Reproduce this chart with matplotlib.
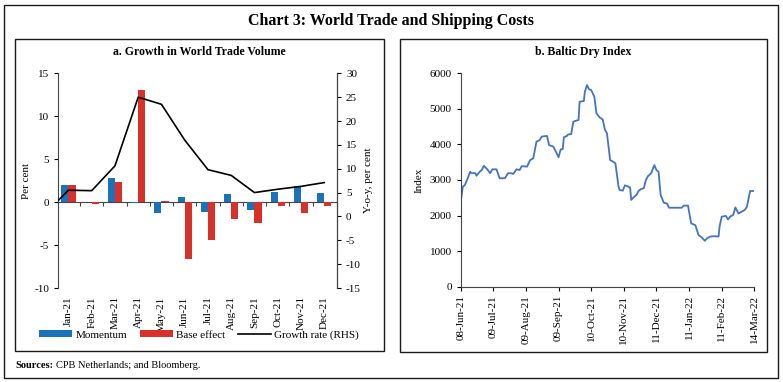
import matplotlib
matplotlib.use("Agg")
import matplotlib.pyplot as plt
import matplotlib.dates as mdates
from matplotlib.patches import Rectangle
import numpy as np
import pandas as pd

plt.rcParams['font.family'] = ['Liberation Serif', 'DejaVu Serif']
plt.rcParams['font.size'] = 8
plt.rcParams['axes.unicode_minus'] = False

# panel a data
months = ['Jan-21', 'Feb-21', 'Mar-21', 'Apr-21', 'May-21', 'Jun-21',
          'Jul-21', 'Aug-21', 'Sep-21', 'Oct-21', 'Nov-21', 'Dec-21']
momentum = [2.0, 0.0, 2.8, -0.1, -1.3, 0.6, -1.2, 1.0, -0.9, 1.2, 1.9, 1.1]
base_effect = [2.0, -0.2, 2.3, 13.1, 0.1, -6.6, -4.4, -2.0, -2.4, -0.5, -1.3, -0.4]
# growth rate (RHS), first value is Dec-20
growth = [0.6, 5.5, 5.4, 10.6, 25.0, 23.5, 16.0, 9.8, 8.6, 5.0, 5.7, 6.3, 7.1]

# panel b data (Baltic Dry Index)
bdi_dates = ['2021-06-08', '2021-06-10', '2021-06-12', '2021-06-14', '2021-06-17',
             '2021-06-18', '2021-06-22', '2021-06-23', '2021-06-26', '2021-06-28',
             '2021-06-30', '2021-07-03', '2021-07-06', '2021-07-08', '2021-07-12',
             '2021-07-15', '2021-07-20', '2021-07-23', '2021-07-26', '2021-07-28',
             '2021-07-31', '2021-08-03', '2021-08-05', '2021-08-10', '2021-08-13',
             '2021-08-16', '2021-08-19', '2021-08-22', '2021-08-24', '2021-08-29',
             '2021-08-31', '2021-09-04', '2021-09-09', '2021-09-11', '2021-09-13',
             '2021-09-14', '2021-09-17', '2021-09-18', '2021-09-21', '2021-09-23',
             '2021-09-26', '2021-09-28', '2021-09-29', '2021-10-03', '2021-10-04',
             '2021-10-06', '2021-10-08', '2021-10-10', '2021-10-13', '2021-10-15',
             '2021-10-18', '2021-10-21', '2021-10-23', '2021-10-25', '2021-10-28',
             '2021-10-30', '2021-11-02', '2021-11-05', '2021-11-06', '2021-11-09',
             '2021-11-11', '2021-11-13', '2021-11-16', '2021-11-17', '2021-11-20',
             '2021-11-22', '2021-11-24', '2021-11-26', '2021-11-29', '2021-12-01',
             '2021-12-03', '2021-12-06', '2021-12-09', '2021-12-11', '2021-12-13',
             '2021-12-15', '2021-12-18', '2021-12-21', '2021-12-23', '2021-12-27',
             '2022-01-04', '2022-01-06', '2022-01-10', '2022-01-13', '2022-01-17',
             '2022-01-20', '2022-01-23', '2022-01-26', '2022-01-28', '2022-01-31',
             '2022-02-04', '2022-02-08', '2022-02-09', '2022-02-11', '2022-02-15',
             '2022-02-17', '2022-02-19', '2022-02-22', '2022-02-24', '2022-02-27',
             '2022-03-02', '2022-03-05', '2022-03-07', '2022-03-10', '2022-03-14']
bdi_values = [2390, 2810, 2860, 3000, 3230, 3200, 3190, 3120, 3230, 3280,
              3400, 3310, 3190, 3300, 3300, 3050, 3050, 3190, 3190, 3170,
              3300, 3280, 3390, 3375, 3560, 3610, 4080, 4120, 4220, 4240,
              3980, 3940, 3640, 3860, 3870, 4200, 4240, 4280, 4290, 4640,
              4670, 4690, 5200, 5220, 5480, 5670, 5550, 5530, 5340, 4875,
              4760, 4700, 4420, 4310, 3560, 3530, 3470, 2810, 2720, 2700,
              2850, 2830, 2790, 2440, 2530, 2580, 2690, 2740, 2770, 3000,
              3110, 3190, 3420, 3280, 3230, 2580, 2360, 2340, 2220, 2220,
              2220, 2280, 2280, 1780, 1730, 1450, 1390, 1290, 1360, 1410,
              1420, 1410, 1690, 1970, 1990, 1890, 1970, 2020, 2230, 2060,
              2110, 2160, 2250, 2690, 2690]
bdi_ticks = ['2021-06-08', '2021-07-09', '2021-08-09', '2021-09-09', '2021-10-10',
             '2021-11-10', '2021-12-11', '2022-01-11', '2022-02-11', '2022-03-14']

W, H = 783, 382
fig = plt.figure(figsize=(W / 100, H / 100), dpi=100)


def box(x0, y0, x1, y1):
    fig.patches.append(Rectangle((x0 / W, 1 - y1 / H), (x1 - x0) / W, (y1 - y0) / H,
                                 transform=fig.transFigure, fill=False,
                                 edgecolor='#1a1a1a', lw=1.0))


box(4, 4.5, 778, 378)
box(14.5, 39, 383.5, 351)
box(399.5, 39, 767, 352)

fig.text(391 / W, 1 - 21 / H, 'Chart 3: World Trade and Shipping Costs',
         ha='center', va='center', fontsize=11.5, fontweight='bold')
fig.text(15 / W, 1 - 365 / H, 'Sources:', ha='left', va='center', fontsize=7.5, fontweight='bold')
fig.text(56 / W, 1 - 365 / H, 'CPB Netherlands; and Bloomberg.', ha='left', va='center', fontsize=7.5)

# ---- panel a ----
ax = fig.add_axes([58 / W, 1 - 288 / H, 279 / W, 214.7 / H])
x = np.arange(len(months))
w = 0.31
ax.bar(x - w / 2, momentum, w, color='#1a72bb', label='Momentum')
ax.bar(x + w / 2, base_effect, w, color='#d8312a', label='Base effect')
ax.set_xlim(-0.45, 11.55)
ax.set_ylim(-10, 15)
ax.set_yticks(range(-10, 16, 5))
ax.set_xticks(x)
ax.set_xticklabels(months, rotation=90)
ax.tick_params(axis='x', length=0, pad=6)
ax.tick_params(axis='y', direction='out', length=3)
for s in ['top', 'bottom']:
    ax.spines[s].set_visible(False)
ax.spines['left'].set_color('#444444')
ax.set_ylabel('Per cent', labelpad=2)

zero = ax.secondary_xaxis(0.4)
zero.set_xticks(np.arange(0.5, 11.5, 1))
zero.set_xticklabels([])
zero.tick_params(length=3, color='#444444')
zero.spines['bottom'].set_color('#444444')

ax2 = ax.twinx()
ax2.plot(np.arange(-1, 12), growth, color='black', lw=1.2, label='Growth rate (RHS)')
ax2.set_ylim(-15, 30)
ax2.set_yticks(range(-15, 31, 5))
ax2.set_xlim(-0.45, 11.55)
for s in ['top', 'bottom', 'left']:
    ax2.spines[s].set_visible(False)
ax2.spines['right'].set_color('#444444')
ax2.tick_params(axis='y', direction='out', length=3)
ax2.set_ylabel('Y-o-y, per cent', labelpad=2)
fig.text(199 / W, 1 - 52 / H, 'a. Growth in World Trade Volume',
         ha='center', va='center', fontsize=8.5, fontweight='bold')

handles = ax.get_legend_handles_labels()[0] + ax2.get_legend_handles_labels()[0]
labels = ['Momentum', 'Base effect', 'Growth rate (RHS)']
fig.legend(handles, labels, loc='center', bbox_to_anchor=(199 / W, 1 - 335 / H), ncol=3,
           frameon=False, handlelength=3.0, handleheight=0.6, columnspacing=1.1,
           handletextpad=0.3, fontsize=8)

# ---- panel b ----
bx = fig.add_axes([460.7 / W, 1 - 286.7 / H, 293.6 / W, 213.4 / H])
bx.plot(pd.to_datetime(bdi_dates), bdi_values, color='#4472c4', lw=1.3)
bx.set_xlim(pd.Timestamp('2021-06-08'), pd.Timestamp('2022-03-14'))
bx.set_ylim(0, 6000)
bx.set_yticks(range(0, 6001, 1000))
bx.set_xticks(pd.to_datetime(bdi_ticks))
bx.xaxis.set_major_formatter(mdates.DateFormatter('%d-%b-%y'))
bx.tick_params(axis='x', rotation=90, direction='out', length=3, pad=3)
bx.tick_params(axis='y', direction='out', length=3)
for s in ['top', 'right']:
    bx.spines[s].set_visible(False)
bx.spines['left'].set_color('#444444')
bx.spines['bottom'].set_color('#444444')
bx.set_ylabel('Index', labelpad=4)
fig.text(583 / W, 1 - 52 / H, 'b. Baltic Dry Index',
         ha='center', va='center', fontsize=8.5, fontweight='bold')

fig.savefig('out.png', dpi=100)
